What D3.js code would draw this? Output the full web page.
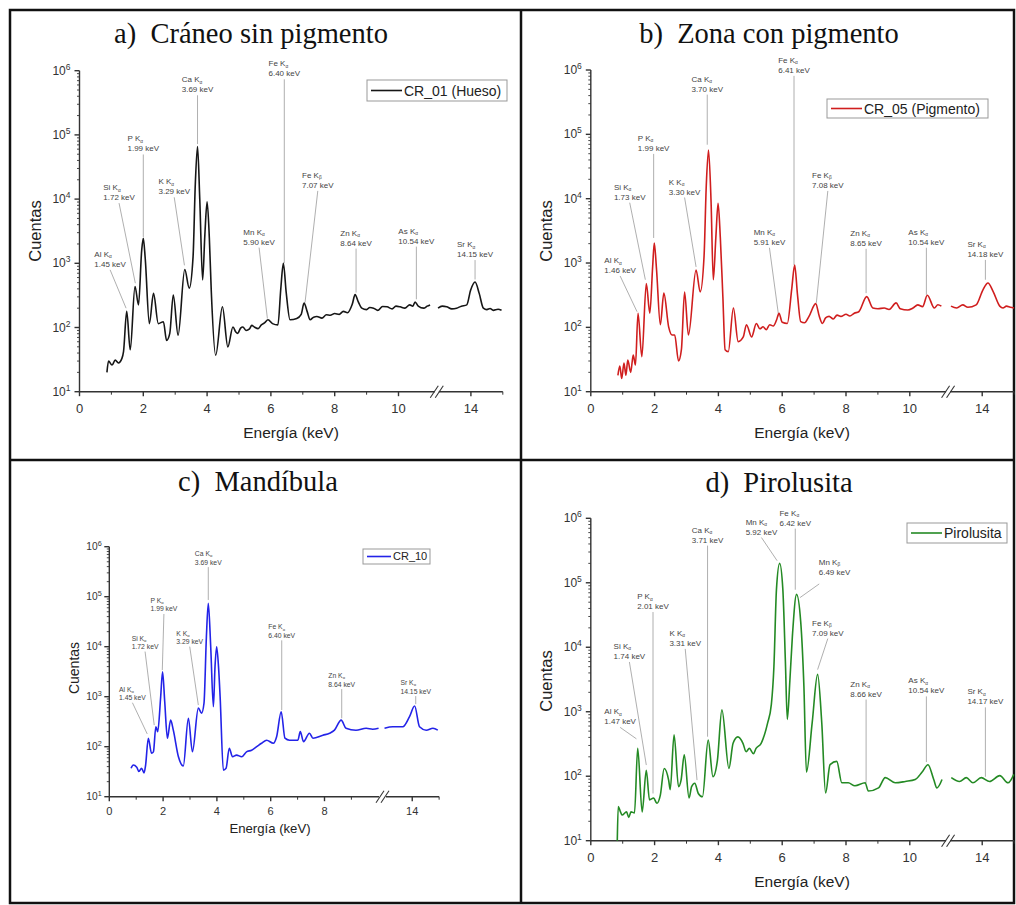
<!DOCTYPE html>
<html><head><meta charset="utf-8">
<script src="https://cdn.jsdelivr.net/npm/d3@7"></script>
<style>body{margin:0;background:#fff} svg{display:block}</style>
</head><body>
<svg id="c" width="1016" height="905"></svg>
<script>
// ---------- DATA ----------
const xMajorTicks = [0, 2, 4, 6, 8, 10, 14];
const xMajorTicksC = [0, 2, 4, 6, 8, 14];
const xMinorTicks = [1, 3, 5, 7, 9, 15];
const yExponents = [1, 2, 3, 4, 5, 6];

const titles = ["a)\u00a0 Cráneo sin pigmento", "b)\u00a0 Zona con pigmento", "c)\u00a0 Mandíbula", "d)\u00a0 Pirolusita"];
const legendLabels = ["CR_01 (Hueso)", "CR_05 (Pigmento)", "CR_10", "Pirolusita"];
const xTitle = "Energía (keV)";
const yTitle = "Cuentas";

// [energy keV, counts]
const spectrumA = [
 [0.86,20],[0.91,30],[1.02,26],[1.12,31],[1.22,28],[1.33,33],[1.38,42],[1.48,178],[1.59,45],
 [1.74,435],[1.85,225],[1.95,1600],[2.00,2450],[2.06,1200],[2.19,115],[2.32,340],[2.47,115],[2.63,123],
 [2.73,63],[2.83,81],[2.94,320],[3.09,76],[3.30,800],[3.44,410],[3.56,1260],[3.63,17000],[3.70,66000],
 [3.77,10000],[3.86,550],[3.93,2800],[4.00,9100],[4.07,2500],[4.13,380],[4.27,37],[4.48,210],[4.65,50],
 [4.81,102],[4.90,85],[4.96,81],[5.05,98],[5.12,102],[5.22,90],[5.33,95],[5.40,108],[5.48,102],[5.60,96],
 [5.70,110],[5.80,118],[5.91,132],[6.05,115],[6.22,110],[6.31,400],[6.39,1000],[6.48,350],[6.60,132],
 [6.81,138],[6.95,160],[7.04,240],[7.14,175],[7.23,132],[7.34,145],[7.44,148],[7.60,140],[7.74,158],
 [7.86,155],[8.00,165],[8.14,160],[8.27,178],[8.40,170],[8.55,230],[8.64,325],[8.74,250],[8.85,200],
 [9.00,190],[9.10,205],[9.22,200],[9.35,185],[9.50,212],[9.64,210],[9.80,195],[9.92,215],[10.05,210],
 [10.20,200],[10.35,225],[10.45,215],[10.52,250],[10.62,215],[10.79,200],[10.90,215],[10.99,225],
 [12.97,200],[13.10,215],[13.24,210],[13.40,195],[13.55,200],[13.70,215],[13.87,225],[13.99,380],
 [14.13,510],[14.26,340],[14.39,200],[14.50,190],[14.60,198],[14.70,185],[14.85,192],[14.96,185]
];
const spectrumB = [
 [0.85,18],[0.91,25],[0.97,16],[1.04,28],[1.10,18],[1.16,31],[1.25,20],[1.33,37],[1.40,26],[1.48,166],
 [1.60,35],[1.74,480],[1.85,166],[1.94,900],[1.99,2050],[2.06,800],[2.18,110],[2.29,340],[2.44,102],
 [2.55,76],[2.63,76],[2.75,30],[2.84,45],[2.94,355],[3.06,76],[3.30,780],[3.43,355],[3.55,1260],
 [3.62,16000],[3.69,57000],[3.77,9000],[3.84,550],[3.92,2500],[3.99,8500],[4.06,2500],[4.14,300],
 [4.21,45],[4.31,42],[4.47,200],[4.62,60],[4.78,71],[4.88,110],[5.04,71],[5.19,115],[5.30,95],[5.40,102],
 [5.50,92],[5.61,110],[5.72,105],[5.82,129],[5.90,166],[6.00,120],[6.16,115],[6.30,400],[6.39,930],
 [6.48,320],[6.58,123],[6.70,118],[6.84,148],[7.05,234],[7.16,150],[7.26,115],[7.36,140],[7.47,148],
 [7.60,135],[7.72,155],[7.84,148],[8.00,160],[8.12,150],[8.26,166],[8.40,175],[8.65,300],[8.84,200],
 [9.00,195],[9.20,200],[9.35,190],[9.57,240],[9.70,195],[9.94,186],[10.10,200],[10.25,224],[10.40,210],
 [10.55,316],[10.77,200],[10.88,225],[10.99,214],
 [13.02,214],[13.20,200],[13.39,224],[13.55,205],[13.81,224],[14.02,380],[14.18,490],[14.34,363],
 [14.55,214],[14.65,200],[14.76,214],[14.88,205],[15.0,200]
];
const spectrumC = [
 [0.81,37],[0.89,43],[1.02,39],[1.10,32],[1.20,37],[1.29,30],[1.35,43],[1.45,148],[1.57,74],[1.64,79],
 [1.73,250],[1.80,200],[1.91,1000],[1.98,3150],[2.06,800],[2.16,148],[2.28,340],[2.38,214],[2.57,63],
 [2.75,41],[2.94,370],[3.09,79],[3.31,590],[3.43,470],[3.52,740],[3.61,16000],[3.68,74000],[3.77,10000],
 [3.87,630],[3.93,4000],[3.99,10000],[4.06,4000],[4.12,1000],[4.24,34],[4.34,37],[4.46,93],[4.58,63],
 [4.73,68],[4.92,63],[5.10,79],[5.29,85],[5.48,100],[5.66,117],[5.85,135],[6.10,117],[6.22,158],
 [6.39,500],[6.53,148],[6.70,135],[7.01,135],[7.10,200],[7.22,126],[7.44,186],[7.57,148],[7.94,170],
 [8.19,186],[8.37,214],[8.62,340],[8.80,234],[9.17,214],[9.55,234],[9.79,224],[10.01,234],
 [12.97,234],[13.28,250],[13.65,250],[13.90,400],[14.09,650],[14.27,250],[14.52,214],[14.77,234],[14.95,214]
];
const spectrumD = [
 [0.83,10],[0.86,34],[0.93,28],[0.98,25],[1.12,28],[1.19,23],[1.26,28],[1.37,27],[1.47,270],[1.61,28],
 [1.74,123],[1.84,43],[1.97,46],[2.07,38],[2.18,51],[2.30,132],[2.44,87],[2.49,62],[2.61,437],[2.75,69],
 [2.83,87],[2.93,214],[3.08,46],[3.16,69],[3.26,78],[3.37,54],[3.50,48],[3.68,363],[3.83,98],[3.97,178],
 [4.11,1070],[4.33,132],[4.46,324],[4.61,407],[4.77,324],[4.87,240],[4.97,270],[5.10,224],[5.18,270],
 [5.34,324],[5.54,660],[5.66,1300],[5.74,5000],[5.82,79000],[5.92,200000],[6.02,79000],[6.10,6000],
 [6.16,760],[6.24,3000],[6.32,15000],[6.45,66000],[6.58,25000],[6.68,2500],[6.76,115],[6.94,676],
 [7.11,3800],[7.24,676],[7.36,55],[7.50,151],[7.71,170],[7.87,79],[8.07,79],[8.28,71],[8.60,79],
 [8.70,59],[9.02,66],[9.23,95],[9.54,79],[9.86,83],[10.17,89],[10.38,115],[10.57,151],[10.75,89],
 [10.85,66],[11.01,89],
 [13.03,95],[13.29,83],[13.50,95],[13.71,79],[13.97,95],[14.23,83],[14.55,102],[14.81,79],[14.99,107]
];

// annotations: [element, line, keV label, label E, label counts, peak E, peak counts, (line start E, counts)]
const annotA = [
 ["Al","α","1.45",0.96,1260,1.46,200],["Si","α","1.72",1.24,13800,1.75,490],["P","α","1.99",2.0,79000,2.0,2570],
 ["K","α","3.29",2.97,17000,3.29,930],["Ca","α","3.69",3.70,660000,3.70,72000],["Mn","α","5.90",5.63,2800,5.89,138],
 ["Fe","α","6.40",6.42,1170000,6.42,1000],["Fe","β","7.07",7.47,21400,7.07,245],["Zn","α","8.64",8.67,2700,8.67,350],
 ["As","α","10.54",10.56,2900,10.56,275],["Sr","α","14.15",14.13,1790,14.13,560]
];
const annotB = [
 ["Al","α","1.46",0.92,1000,1.45,175],["Si","α","1.73",1.22,13800,1.71,550],["P","α","1.99",1.97,79000,1.97,2450],
 ["K","α","3.30",2.94,16600,3.30,870],["Ca","α","3.70",3.65,660000,3.65,69000],["Mn","α","5.91",5.60,2750,5.89,148],
 ["Fe","α","6.41",6.37,1290000,6.37,930],["Fe","β","7.08",7.43,21000,7.07,240],["Zn","α","8.65",8.63,2650,8.63,340],
 ["As","α","10.54",10.52,2750,10.52,320],["Sr","α","14.18",14.10,1780,14.10,550]
];
const annotC = [
 ["Al","α","1.45",0.86,1260,1.41,180],["Si","α","1.72",1.33,13300,1.67,270],["P","α","1.99",2.03,75000,1.97,3400],
 ["K","α","3.29",2.99,16700,3.31,680],["Ca","α","3.69",3.68,650000,3.68,86000],["Fe","α","6.40",6.41,22300,6.41,540],
 ["Zn","α","8.64",8.64,2360,8.64,370],["Sr","α","14.15",14.13,1710,14.13,710]
];
const annotD = [
 ["Al","α","1.47",0.92,910,1.43,380],["Si","α","1.74",1.21,9400,1.74,149],["P","α","2.01",1.95,56000,1.95,54],
 ["K","α","3.31",2.96,15000,3.33,87],["Ca","α","3.71",3.66,600000,3.66,410],["Mn","α","5.92",5.35,800000,5.84,220000],
 ["Fe","α","6.42",6.41,1100000,6.41,78000],["Mn","β","6.49",7.64,190000,6.56,59000,7.16,96000],
 ["Fe","β","7.09",7.43,21700,7.11,4500],["Zn","α","8.66",8.63,2460,8.63,78],["As","α","10.54",10.52,2750,10.52,166],
 ["Sr","α","14.17",14.10,1860,14.10,98]
];

// ---------- LAYOUT ----------
const FONT = "'Liberation Sans', Arial, sans-serif";
const SERIF = "'Liberation Serif', 'Times New Roman', serif";
const panels = [
 {title:titles[0], data:spectrumA, ann:annotA, color:"#161616", legend:legendLabels[0], majors:xMajorTicks,
  L:79.5, k:31.9, b1:11.2, gap:0, b2:12.93, yTop:70.7, yBot:391.7, tX:251, tY:43,
  lg:[367,80,140,21], lgFont:14, xt:[291,438], yt:[35,231], f:1},
 {title:titles[1], data:spectrumB, ann:annotB, color:"#d01e1e", legend:legendLabels[1], majors:xMajorTicks,
  L:590.8, k:31.9, b1:11.2, gap:0, b2:12.93, yTop:70, yBot:391.7, tX:769, tY:43,
  lg:[827,99,161,19], lgFont:14, xt:[802,438], yt:[546,231], f:1},
 {title:titles[2], data:spectrumC, ann:annotC, color:"#2323e8", legend:legendLabels[2], majors:xMajorTicksC,
  L:109.3, k:26.9, b1:10.1, gap:3, b2:12.95, yTop:546.7, yBot:796.7, tX:258, tY:491,
  lg:[363,549,67,15], lgFont:11, xt:[270,833], yt:[74,668], f:0.85},
 {title:titles[3], data:spectrumD, ann:annotD, color:"#248a24", legend:legendLabels[3], majors:xMajorTicks,
  L:590.8, k:31.9, b1:11.2, gap:0, b2:12.93, yTop:518.3, yBot:840.7, tX:779, tY:492,
  lg:[907,523,100,20], lgFont:14, xt:[802,887], yt:[546,681], f:1}
];

const svg = d3.select("#c");
svg.append("rect").attr("width",1016).attr("height",905).attr("fill","#fff");

// frame
const frame = svg.append("g").attr("stroke","#111").attr("stroke-width",2.5).attr("fill","none");
frame.append("rect").attr("x",10).attr("y",10).attr("width",1004).attr("height",893);
frame.append("line").attr("x1",521).attr("x2",521).attr("y1",10).attr("y2",903);
frame.append("line").attr("x1",10).attr("x2",1014).attr("y1",460).attr("y2",460);

panels.forEach(p => {
  const g = svg.append("g");
  const xb = p.L + p.b1 * p.k;
  const xEnd = xb + p.gap + (15 - p.b2) * p.k;
  const x = d3.scaleLinear().domain([0, p.b1, p.b2, 15]).range([p.L, xb, xb + p.gap, xEnd]);
  const y = d3.scaleLog().domain([10, 1e6]).range([p.yBot, p.yTop]);
  const f = p.f;

  // title
  g.append("text").attr("x", p.tX).attr("y", p.tY).attr("text-anchor","middle")
    .attr("font-family", SERIF).attr("font-size", 28.5).attr("fill","#111").text(p.title);

  // y axis
  const ax = g.append("g").attr("stroke","#333").attr("stroke-width",1.4);
  ax.append("line").attr("x1",p.L).attr("x2",p.L).attr("y1",p.yTop).attr("y2",p.yBot);
  const minorY = [];
  yExponents.slice(0,-1).forEach(e => { for (let m=2;m<=9;m++) minorY.push(m*Math.pow(10,e)); });
  ax.selectAll(".ym").data(minorY).join("line").attr("x1",p.L-2.5).attr("x2",p.L)
    .attr("y1",d=>y(d)).attr("y2",d=>y(d)).attr("stroke-width",0.9);
  ax.selectAll(".yM").data(yExponents).join("line").attr("x1",p.L-5).attr("x2",p.L)
    .attr("y1",d=>y(Math.pow(10,d))).attr("y2",d=>y(Math.pow(10,d)));
  const yl = g.selectAll(".yl").data(yExponents).join("text")
    .attr("x", p.L - 9*f).attr("y", d => y(Math.pow(10,d)) + 4*f)
    .attr("text-anchor","end").attr("font-family",FONT).attr("font-size",12*f).attr("fill","#333");
  yl.append("tspan").text("10");
  yl.append("tspan").attr("dy",-5*f).attr("font-size",8.5*f).text(d=>d);

  // x axis with break
  ax.append("line").attr("x1",p.L).attr("x2",xb-2).attr("y1",p.yBot).attr("y2",p.yBot);
  ax.append("line").attr("x1",xb+p.gap+2).attr("x2",xEnd).attr("y1",p.yBot).attr("y2",p.yBot);
  [-2.5, 2.5].forEach(o => {
    ax.append("line").attr("x1", xb + p.gap/2 + o - 4).attr("y1", p.yBot + 6)
      .attr("x2", xb + p.gap/2 + o + 4).attr("y2", p.yBot - 6).attr("stroke-width",1.1);
  });
  ax.selectAll(".xM").data(p.majors).join("line").attr("x1",d=>x(d)).attr("x2",d=>x(d))
    .attr("y1",p.yBot).attr("y2",p.yBot+4.5);
  ax.selectAll(".xm").data(xMinorTicks).join("line").attr("x1",d=>x(d)).attr("x2",d=>x(d))
    .attr("y1",p.yBot).attr("y2",p.yBot+3).attr("stroke-width",1);
  g.selectAll(".xl").data(p.majors).join("text").attr("x",d=>x(d)).attr("y",p.yBot + 21*f)
    .attr("text-anchor","middle").attr("font-family",FONT).attr("font-size",13*f).attr("fill","#333").text(d=>d);

  // axis titles
  g.append("text").attr("x",p.xt[0]).attr("y",p.xt[1]).attr("text-anchor","middle")
    .attr("font-family",FONT).attr("font-size",15.5*f).attr("fill","#222").text(xTitle);
  g.append("text").attr("transform",`translate(${p.yt[0]},${p.yt[1]}) rotate(-90)`).attr("dy","0.35em")
    .attr("text-anchor","middle").attr("font-family",FONT).attr("font-size",16.5*f).attr("fill","#222").text(yTitle);

  // annotations
  const fs = 8*f, lh = 10*f;
  p.ann.forEach(a => {
    const [el, ln, kev, lx, ly, ex, ey, sx, sy] = a;
    const px = x(lx), py = y(ly);
    const t2 = g.append("text").attr("y", py + lh).attr("font-family",FONT).attr("font-size",fs).attr("fill","#444")
      .text(kev + " keV");
    const w2 = t2.node().getComputedTextLength();
    const left = px - w2/2;
    t2.attr("x", left);
    const t1 = g.append("text").attr("x", left).attr("y", py).attr("font-family",FONT).attr("font-size",fs).attr("fill","#444");
    t1.append("tspan").text(el + " K");
    t1.append("tspan").attr("dy", 1.5*f).attr("font-size", fs*0.6).text(ln);
    const x1 = sx !== undefined ? x(sx) : px;
    const y1 = sy !== undefined ? y(sy) : py + lh + 3*f;
    g.append("line").attr("x1",x1).attr("y1",y1).attr("x2",x(ex)).attr("y2",y(ey))
      .attr("stroke","#9a9a9a").attr("stroke-width",0.8);
  });

  // spectrum, split at the axis break
  const seg1 = p.data.filter(d => d[0] <= p.b1);
  const seg2 = p.data.filter(d => d[0] >= p.b2);
  const line = d3.line().x(d=>x(d[0])).y(d=>y(d[1])).curve(d3.curveMonotoneX);
  [seg1, seg2].forEach(s => g.append("path").attr("d", line(s)).attr("fill","none")
    .attr("stroke", p.color).attr("stroke-width", 1.6).attr("stroke-linejoin","round"));

  // legend
  const [lx0, ly0, lw, lhh] = p.lg;
  g.append("rect").attr("x",lx0).attr("y",ly0).attr("width",lw).attr("height",lhh)
    .attr("fill","#fff").attr("stroke","#999").attr("stroke-width",1);
  const sw = p.lgFont > 12 ? 31 : 24;
  g.append("line").attr("x1",lx0+4).attr("x2",lx0+4+sw).attr("y1",ly0+lhh/2).attr("y2",ly0+lhh/2)
    .attr("stroke",p.color).attr("stroke-width",1.6);
  g.append("text").attr("x",lx0+6+sw).attr("y",ly0+lhh/2).attr("dy","0.36em")
    .attr("font-family",FONT).attr("font-size",p.lgFont).attr("fill","#222").text(p.legend);
});
</script>
</body></html>
